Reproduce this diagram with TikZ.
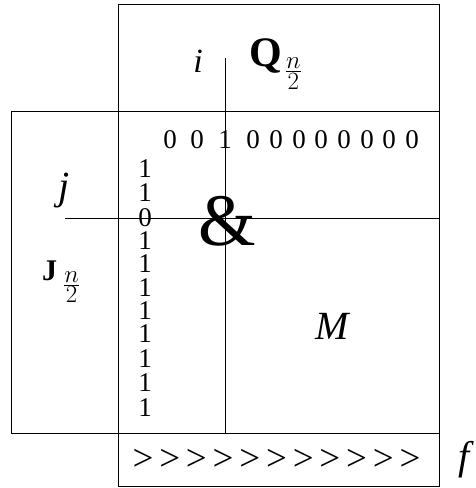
\documentclass[tikz,border=0pt]{standalone}
\usepackage{amsmath}
\usepackage{fontspec}
\setmainfont{Liberation Serif}
\usetikzlibrary{calc}

\begin{document}
\begin{tikzpicture}[
    x=1pt, y=-1pt,
    frame/.style={draw, line width=0.9pt},
    bit/.style={inner sep=0pt, text height=18pt, text depth=0pt, font=\fontsize{27}{30}\selectfont},
    chev/.style={inner sep=0pt, font=\fontsize{37}{40}\selectfont},
    var/.style={inner sep=0pt, font=\fontsize{40}{44}\selectfont\itshape},
    blk/.style={inner sep=0pt, font=\fontsize{32}{36}\selectfont}
]
\useasboundingbox (0,0) rectangle (475,488);

% corners of the three frames
\coordinate (qnw) at (118,4);
\coordinate (qse) at (439,111);
\coordinate (mnw) at (11,111);
\coordinate (mse) at (439,433);
\coordinate (fnw) at (118,433);
\coordinate (fse) at (439,486);
\coordinate (split) at (118,111);
\coordinate (itop) at (225,58);
\coordinate (ibot) at (225,433);
\coordinate (jleft) at (65,218);
\coordinate (jright) at (439,218);

\draw[frame] (qnw) rectangle (qse);
\draw[frame] (mnw) rectangle (mse);
\draw[frame] (fnw) rectangle (fse);
\draw[frame] (split) -- (fnw);
\draw[frame] (itop) -- (ibot);
\draw[frame] (jleft) -- (jright);

% labels
\node[var, font=\fontsize{34}{36}\selectfont\itshape] (i) at (198,61) {i};
\node[blk, anchor=base west, font=\fontsize{42}{44}\selectfont\bfseries] (q) at (249,66)
    {Q\kern3pt$_{\frac{\scriptstyle n}{\scriptstyle 2}}$};
\node[blk, anchor=base west, font=\fontsize{30}{34}\selectfont\bfseries] (jj) at (42,280)
    {J\kern6pt$_{\frac{\textstyle n}{\textstyle 2}}$};
\node[var] (j) at (64,191) {j};
\node[var] (m) at (332,326) {M};
\node[var] (f) at (464,460) {f};
\node[inner sep=0pt, font=\fontsize{74}{76}\selectfont] (amp) at (227,221) {\&};

% bit row and bit column
\foreach \bx/\bv [count=\k] in {170/0,197/0,225/1,253/0,276/0,299/0,321/0,344/0,367/0,389/0,412/0}
    \node[bit] (row\k) at (\bx,139) {\bv};
\foreach \by/\bv [count=\k] in {168/1,192/1,217/0,240/1,263/1,287/1,310/1,333/1,358/1,382/1,407/1}
    \node[bit] (col\k) at (145,\by) {\bv};

% shift row
\foreach \k in {0,...,10}
    \node[chev] (sh\k) at ({143+26.7*\k},460) {>};
\end{tikzpicture}
\end{document}
